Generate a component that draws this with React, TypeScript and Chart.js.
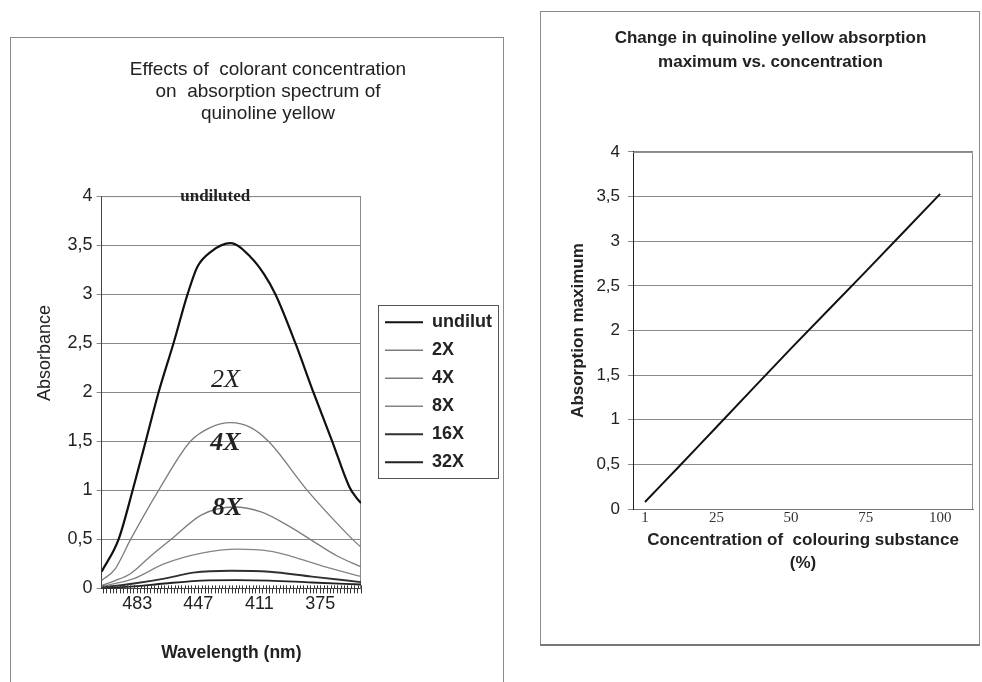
import React, { useEffect, useRef } from 'react';
import { Chart, registerables } from 'chart.js';

Chart.register(...registerables);

const SANS = '"Liberation Sans", Arial, sans-serif';
const SERIF = '"Liberation Serif", "Times New Roman", serif';

// ---------- Left chart: absorption spectra ----------
const spectrumTitle = ['Effects of  colorant concentration', 'on  absorption spectrum of', 'quinoline yellow'];
const spectrumYTitle = 'Absorbance';
const seriesNames = ['undilut', '2X', '4X', '8X', '16X', '32X'];

const wlUndiluted = [504, 494, 485.7, 478, 470.4, 461.6, 453.3, 447.5, 439.8, 428, 416.2, 408.4, 401.5, 389.7, 379.1, 368, 358, 354, 351];
const absUndiluted = [0.17, 0.5, 1.0, 1.5, 2.0, 2.5, 3.0, 3.28, 3.43, 3.52, 3.38, 3.21, 3.0, 2.5, 2.0, 1.5, 1.04, 0.93, 0.87];

const wl2X = [504, 496, 486.9, 470.4, 451.6, 440, 428, 416, 405.6, 382.7, 365, 356, 351];
const abs2X = [0.08, 0.2, 0.5, 1.0, 1.5, 1.64, 1.69, 1.64, 1.5, 1.0, 0.66, 0.5, 0.42];

const wl4X = [504, 496, 487, 475, 463, 445, 426, 410, 393, 381, 365, 351];
const abs4X = [0.03, 0.08, 0.15, 0.33, 0.5, 0.75, 0.83, 0.78, 0.63, 0.5, 0.33, 0.22];

const wl8X = [504, 485, 467.3, 445, 424, 405, 392.7, 372, 351];
const abs8X = [0.02, 0.1, 0.25, 0.36, 0.4, 0.38, 0.33, 0.22, 0.12];

const wl16X = [504, 485, 467, 450, 428, 405, 380, 351];
const abs16X = [0.01, 0.05, 0.1, 0.16, 0.18, 0.17, 0.12, 0.065];

const wl32X = [504, 485, 467, 445, 425, 405, 380, 351];
const abs32X = [0.0, 0.02, 0.05, 0.08, 0.085, 0.08, 0.06, 0.04];

const wavelengthLabels = [483, 447, 411, 375];

const spectrumNotes = ['undiluted', '2X', '4X', '8X'];
const noteWl = [437, 431, 431, 430];
const noteAbs = [4, 2.12, 1.48, 0.82];

// ---------- Right chart: absorption maximum vs concentration ----------
const concTitle = ['Change in quinoline yellow absorption', 'maximum vs. concentration'];
const concentration = [1, 12.5, 25, 50, 75, 100];
const absorptionMax = [0.08, 0.48, 0.92, 1.8, 2.66, 3.53];
const concTicks = [1, 25, 50, 75, 100];

const lineColors = ['#111111', '#7d7d7d', '#7d7d7d', '#858585', '#303030', '#222222'];
const lineWidths = [2.2, 1.3, 1.3, 1.3, 1.8, 1.8];

const commaFmt = (v: any) => String(v).replace('.', ',');

const framePlugin = {
  id: 'frame',
  beforeDatasetsDraw(chart: any) {
    const { ctx, chartArea } = chart;
    const { left, top, right, bottom } = chartArea;
    ctx.save();
    ctx.strokeStyle = '#8a8a8a';
    ctx.lineWidth = 1;
    ctx.beginPath();
    ctx.moveTo(left, top + 0.5);
    ctx.lineTo(right - 0.5, top + 0.5);
    ctx.lineTo(right - 0.5, bottom);
    ctx.stroke();
    ctx.restore();
  },
};

// tick marks crossing the wavelength axis, and the rotated y title
const spectrumAxisPlugin = {
  id: 'spectrumAxis',
  afterDatasetsDraw(chart: any) {
    const { ctx, scales, chartArea } = chart;
    const xs = scales.x;
    ctx.save();
    ctx.strokeStyle = '#333';
    ctx.lineWidth = 1;
    ctx.beginPath();
    xs.ticks.forEach((t: any) => {
      const px = Math.round(xs.getPixelForValue(t.value)) + 0.5;
      ctx.moveTo(px, chartArea.bottom - 3);
      ctx.lineTo(px, chartArea.bottom);
    });
    ctx.stroke();
    const ys = scales.y;
    ctx.translate(ys.left + 11, chartArea.top + (chartArea.bottom - chartArea.top) * 0.4);
    ctx.rotate(-Math.PI / 2);
    ctx.fillStyle = '#222';
    ctx.font = `18px ${SANS}`;
    ctx.textAlign = 'center';
    ctx.textBaseline = 'middle';
    ctx.fillText(spectrumYTitle, 0, 0);
    ctx.restore();
  },
};

const notesPlugin = {
  id: 'notes',
  afterDatasetsDraw(chart: any) {
    const { ctx, scales } = chart;
    ctx.save();
    ctx.fillStyle = '#222';
    ctx.textAlign = 'center';
    ctx.textBaseline = 'middle';
    spectrumNotes.forEach((t, i) => {
      ctx.font = i === 0 ? `bold 17px ${SERIF}` : i === 1 ? `italic 26px ${SERIF}` : `italic bold 26px ${SERIF}`;
      ctx.fillText(t, scales.x.getPixelForValue(noteWl[i]), scales.y.getPixelForValue(noteAbs[i]));
    });
    ctx.restore();
  },
};

const legendBoxPlugin = {
  id: 'legendBox',
  afterDraw(chart: any) {
    const lg = chart.legend;
    if (!lg || !lg.legendHitBoxes || !lg.legendHitBoxes.length) return;
    const hb = lg.legendHitBoxes;
    let l = Infinity, r = -Infinity;
    hb.forEach((h: any) => { l = Math.min(l, h.left); r = Math.max(r, h.left + h.width); });
    const t = hb[0].top - 8;
    const b = hb[hb.length - 1].top + hb[hb.length - 1].height + 7;
    const { ctx } = chart;
    ctx.save();
    ctx.strokeStyle = '#555';
    ctx.lineWidth = 1;
    ctx.strokeRect(Math.round(l - 7) + 0.5, Math.round(t) + 0.5, Math.round(r - l + 13), Math.round(b - t));
    ctx.restore();
  },
};

function spectrumConfig(): any {
  const wls = [wlUndiluted, wl2X, wl4X, wl8X, wl16X, wl32X];
  const abss = [absUndiluted, abs2X, abs4X, abs8X, abs16X, abs32X];
  const datasets = seriesNames.map((name, i) => ({
    label: name,
    data: wls[i].map((x, j) => ({ x, y: abss[i][j] })),
    borderColor: lineColors[i],
    backgroundColor: lineColors[i],
    borderWidth: lineWidths[i],
    pointRadius: 0,
    cubicInterpolationMode: 'monotone',
    fill: false,
  }));
  const hatch: number[] = [];
  for (let w = 503; w >= 351; w -= 2) hatch.push(w);
  return {
    type: 'line',
    data: { datasets },
    plugins: [framePlugin, spectrumAxisPlugin, notesPlugin, legendBoxPlugin],
    options: {
      animation: false,
      responsive: false,
      devicePixelRatio: 1,
      layout: { padding: { left: 23, right: 0, top: 0, bottom: 18 } },
      plugins: {
        title: {
          display: true,
          text: spectrumTitle,
          color: '#222',
          font: { family: SANS, size: 19, weight: 'normal', lineHeight: 1.16 },
          padding: { top: 21, bottom: 71 },
        },
        legend: {
          position: 'right',
          align: 'center',
          fullSize: false,
          maxWidth: 220,
          labels: {
            usePointStyle: true,
            pointStyle: 'line',
            pointStyleWidth: 38,
            color: '#222',
            padding: 10,
            font: { family: SANS, size: 18, weight: 'bold' },
          },
        },
        tooltip: { enabled: false },
      },
      scales: {
        x: {
          type: 'linear',
          reverse: true,
          min: 351,
          max: 504,
          afterBuildTicks: (s: any) => { s.ticks = hatch.map((v) => ({ value: v })); },
          ticks: {
            autoSkip: false,
            maxRotation: 0,
            padding: 0,
            color: '#222',
            font: { family: SANS, size: 18 },
            callback: (v: any) => (wavelengthLabels.includes(v) ? String(v) : ''),
          },
          grid: { drawOnChartArea: false, tickLength: 5, color: '#333' },
          border: { color: '#444' },
          title: {
            display: true,
            text: 'Wavelength (nm)',
            color: '#222',
            font: { family: SANS, size: 17.5, weight: 'bold' },
            padding: { top: 28, bottom: 0 },
          },
        },
        y: {
          min: 0,
          max: 4,
          ticks: { stepSize: 0.5, padding: 4, color: '#222', font: { family: SANS, size: 18 }, callback: commaFmt },
          grid: { color: '#888', tickLength: 5 },
          border: { color: '#444' },
          title: { display: false },
          afterFit: (s: any) => { s.width += 29.6; },
        },
        pad: {
          type: 'linear',
          position: 'right',
          display: true,
          grid: { display: false },
          border: { display: false },
          ticks: { display: false },
          afterFit: (s: any) => { s.width = 14; },
        },
      },
    },
  };
}

function concConfig(): any {
  return {
    type: 'line',
    data: {
      datasets: [
        {
          label: 'Absorption maximum',
          data: concentration.map((x, i) => ({ x, y: absorptionMax[i] })),
          borderColor: '#111',
          borderWidth: 2,
          pointRadius: 0,
          tension: 0.15,
          fill: false,
        },
      ],
    },
    plugins: [framePlugin],
    options: {
      animation: false,
      responsive: false,
      devicePixelRatio: 1,
      layout: { padding: { left: 27, right: 5, top: 0, bottom: 69 } },
      plugins: {
        title: {
          display: true,
          text: concTitle,
          color: '#222',
          font: { family: SANS, size: 17, weight: 'bold', lineHeight: 1.41 },
          padding: { top: 14, bottom: 78 },
        },
        legend: { display: false },
        tooltip: { enabled: false },
      },
      scales: {
        x: {
          type: 'linear',
          min: -3,
          max: 111,
          afterBuildTicks: (s: any) => { s.ticks = concTicks.map((v) => ({ value: v })); },
          ticks: { autoSkip: false, maxRotation: 0, padding: 0, color: '#333', font: { family: SERIF, size: 15 } },
          grid: { display: false, drawTicks: false },
          border: { color: '#777' },
          title: {
            display: true,
            text: ['Concentration of  colouring substance', '(%)'],
            color: '#222',
            font: { family: SANS, size: 17, weight: 'bold', lineHeight: 1.35 },
            padding: { top: 2, bottom: 0 },
          },
        },
        y: {
          min: 0,
          max: 4,
          ticks: { stepSize: 0.5, padding: 8, color: '#222', font: { family: SANS, size: 17 }, callback: commaFmt },
          grid: { color: '#8a8a8a', tickLength: 5 },
          border: { color: '#222' },
          title: {
            display: true,
            text: 'Absorption maximum',
            color: '#222',
            font: { family: SANS, size: 17, weight: 'bold' },
            padding: { top: 0, bottom: 0 },
          },
        },
      },
    },
  };
}

function ChartCanvas({ config, left, top, width, height }: any) {
  const ref = useRef<HTMLCanvasElement>(null);
  useEffect(() => {
    const chart = new Chart(ref.current as HTMLCanvasElement, config());
    return () => chart.destroy();
  }, []);
  return (
    <canvas
      ref={ref}
      width={width}
      height={height}
      style={{ position: 'absolute', left, top, width, height }}
    />
  );
}

export default function App() {
  return (
    <div style={{ position: 'absolute', left: 0, top: 0, width: 982, height: 682, overflow: 'hidden', background: '#fff' }}>
      <div
        style={{
          position: 'absolute', left: 10, top: 37, width: 494, height: 660, boxSizing: 'border-box',
          borderTop: '1px solid #8a8a8a', borderLeft: '1px solid #8a8a8a', borderRight: '1px solid #8a8a8a',
        }}
      />
      <div
        style={{
          position: 'absolute', left: 540, top: 11, width: 440, height: 635, boxSizing: 'border-box',
          border: '1px solid #8a8a8a', borderBottom: '2px solid #777',
        }}
      />
      <ChartCanvas config={spectrumConfig} left={11} top={38} width={491} height={644} />
      <ChartCanvas config={concConfig} left={541} top={12} width={437} height={632} />
    </div>
  );
}
